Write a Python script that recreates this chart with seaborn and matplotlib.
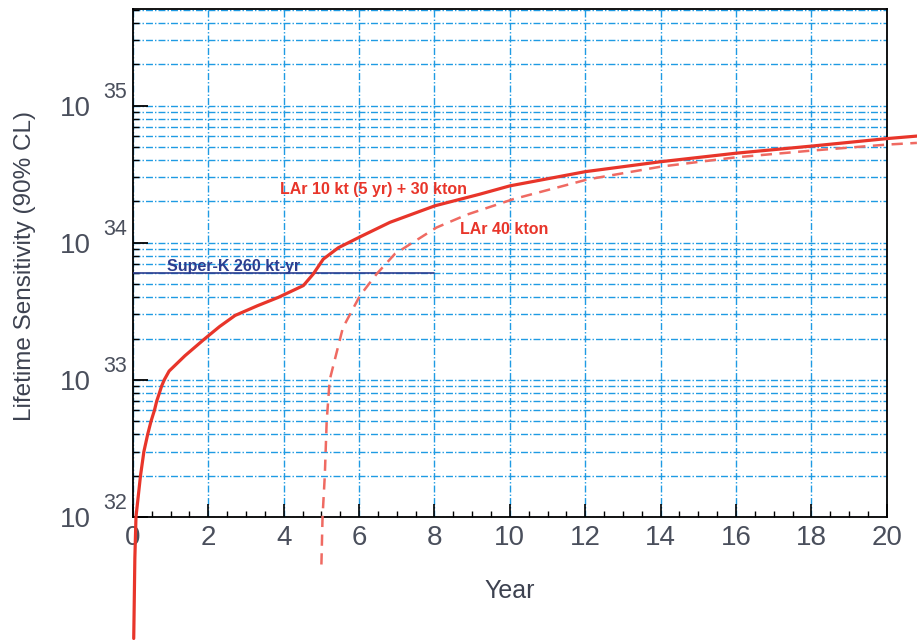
import numpy as np
import pandas as pd
import matplotlib
matplotlib.use("Agg")
import matplotlib.pyplot as plt
import seaborn as sns
from matplotlib.ticker import MultipleLocator, LogLocator, FixedLocator, NullFormatter

# ---- data ----
combo_year = [0.02, 0.03, 0.05, 0.08, 0.20, 0.29, 0.39, 0.48, 0.57, 0.63, 0.70, 0.76, 0.83,
              0.96, 1.38, 1.91, 2.3, 2.71, 3.3, 3.86, 4.52, 4.78, 5.05, 5.45, 6.07, 6.82,
              8.01, 9.2, 10.0, 12, 14, 16, 18, 20, 20.8]
combo_sens = [1.3e31, 2e31, 5e31, 1e32, 2e32, 3e32, 4e32, 5e32, 6e32, 7e32, 8e32, 9e32, 1e33,
              1.16e33, 1.5e33, 2.0e33, 2.45e33, 2.95e33, 3.47e33, 4.0e33, 4.87e33, 5.9e33, 7.6e33,
              9.2e33, 1.12e34, 1.41e34, 1.86e34, 2.26e34, 2.6e34, 3.3e34, 3.9e34, 4.5e34,
              5.07e34, 5.75e34, 6.0e34]

lar40_year = [5.0, 5.03, 5.09, 5.14, 5.22, 5.57, 6.02, 6.46, 6.95, 8.05, 8.85, 10.09, 12.07,
              14.03, 16, 18, 20, 20.8]
lar40_sens = [4.5e31, 1e32, 2e32, 5e32, 1e33, 2.4e33, 4.1e33, 5.9e33, 8.3e33, 1.29e34, 1.6e34,
              2.08e34, 2.9e34, 3.6e34, 4.2e34, 4.7e34, 5.2e34, 5.35e34]

superk_year = [0, 8]
superk_sens = [6.0e33, 6.0e33]

x_ticks = [0, 2, 4, 6, 8, 10, 12, 14, 16, 18, 20]
y_decades = [32, 33, 34, 35]

label_combo = "LAr 10 kt (5 yr) + 30 kton"
label_lar40 = "LAr 40 kton"
label_superk = "Super-K 260 kt-yr"

# ---- style ----
sns.set_theme(style="white")
plt.rcParams["font.family"] = ["Liberation Sans", "DejaVu Sans"]

grid_color = "#1f9be3"
red = "#e8352a"
red_dash = "#ef6a62"
navy = "#2c3d8f"
text_gray = "#4a4f5c"

fig = plt.figure(figsize=(9.17, 6.43), dpi=100)
ax = fig.add_axes([0.145, 0.196, 0.822, 0.790])
ax.set_yscale("log")

df_combo = pd.DataFrame({"Year": combo_year, "Sens": combo_sens})
df_lar40 = pd.DataFrame({"Year": lar40_year, "Sens": lar40_sens})
df_sk = pd.DataFrame({"Year": superk_year, "Sens": superk_sens})

sns.lineplot(data=df_sk, x="Year", y="Sens", ax=ax, color=navy, linewidth=1.2, zorder=4)
sns.lineplot(data=df_lar40, x="Year", y="Sens", ax=ax, color=red_dash, linewidth=1.8,
             linestyle=(0, (4.5, 3)), clip_on=False, zorder=5)
sns.lineplot(data=df_combo, x="Year", y="Sens", ax=ax, color=red, linewidth=2.3,
             clip_on=False, zorder=6)

ax.set_xlim(0, 20)
ax.set_ylim(1e32, 5.07e35)

# ticks
ax.xaxis.set_major_locator(FixedLocator(x_ticks))
ax.xaxis.set_minor_locator(MultipleLocator(0.5))
ax.yaxis.set_major_locator(FixedLocator([10.0 ** d for d in y_decades]))
ax.yaxis.set_minor_locator(LogLocator(base=10, subs=np.arange(2, 10), numticks=20))
ax.yaxis.set_minor_formatter(NullFormatter())
ax.set_xticklabels([str(t) for t in x_ticks])
ax.set_yticklabels(["10" for _ in y_decades])

ax.tick_params(axis="x", which="major", direction="in", length=9.5, width=1.2,
               labelsize=20, labelcolor=text_gray, pad=6, color="black", bottom=True, top=False)
ax.tick_params(axis="x", which="minor", direction="in", length=4.5, width=1.0,
               color="black", bottom=True, top=False)
ax.tick_params(axis="y", which="major", direction="in", length=11, width=1.3,
               labelsize=20, labelcolor=text_gray, pad=30, color="black", left=True, right=False)
ax.tick_params(axis="y", which="minor", direction="in", length=4, width=1.0,
               color="black", left=True, right=False)

# exponents of the y tick labels
for d in y_decades:
    ax.annotate(str(d), xy=(0, 10.0 ** d), xycoords=("axes fraction", "data"),
                xytext=(-4.3, 9.5), textcoords="offset points", ha="right", va="center",
                fontsize=15.5, color=text_gray, annotation_clip=False)

# grid
ax.grid(False)
ax.grid(True, which="major", axis="x", color=grid_color, linestyle=(0, (5, 1.5, 1, 1.5)),
        linewidth=1.0)
ax.grid(True, which="both", axis="y", color=grid_color, linestyle=(0, (5, 1.5, 1, 1.5)),
        linewidth=1.0)
ax.set_axisbelow(True)

for s in ax.spines.values():
    s.set_color("black")
    s.set_linewidth(1.3)
    s.set_visible(True)

ax.set_xlabel("Year", fontsize=18, color="#3d4250", labelpad=20)
ax.set_ylabel("Lifetime Sensitivity (90% CL)", fontsize=17.5, color="#3d4250")
ax.yaxis.set_label_coords(-0.128, 0.494)

# annotations
ax.text(3.9, 2.46e34, label_combo, color=red, fontsize=11.5, fontweight="bold",
        ha="left", va="center", zorder=7)
ax.text(8.68, 1.26e34, label_lar40, color=red, fontsize=11.5, fontweight="bold",
        ha="left", va="center", zorder=7)
ax.text(0.9, 6.75e33, label_superk, color=navy, fontsize=11.5, fontweight="bold",
        ha="left", va="center", zorder=7)

fig.savefig("out.png", dpi=100)
